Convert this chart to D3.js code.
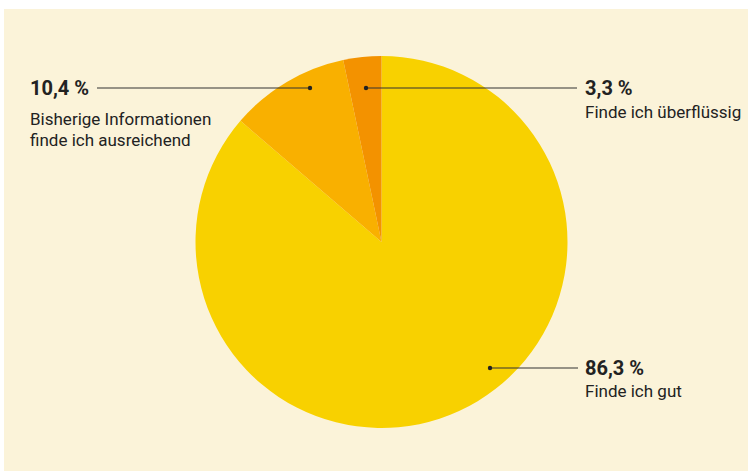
<!DOCTYPE html>
<html><head><meta charset="utf-8">
<script src="https://cdn.jsdelivr.net/npm/d3@7"></script>
<style>html,body{margin:0;padding:0;background:#fff;}svg{display:block;}</style>
</head><body>
<svg id="c" width="748" height="471"></svg>
<script>
const categories = ["Finde ich gut", "Bisherige Informationen finde ich ausreichend", "Finde ich überflüssig"];
const values = [86.3, 10.4, 3.3];
const valueLabels = ["86,3 %", "10,4 %", "3,3 %"];
const labelLines = [["Finde ich gut"], ["Bisherige Informationen", "finde ich ausreichend"], ["Finde ich überflüssig"]];
const colors = ["#f8d100", "#f9b000", "#f39200"];

const svg = d3.select("#c");
const font = "Roboto,'Open Sans',sans-serif";
svg.append("rect").attr("x", 4).attr("y", 9).attr("width", 744).attr("height", 462).attr("fill", "#fbf3d9");

const cx = 381.5, cy = 242, r = 186;
const g = svg.append("g").attr("transform", `translate(${cx},${cy})`);
const pie = d3.pie().sort(null).value(d => d);
const arcs = pie(values);
const arc = d3.arc().innerRadius(0).outerRadius(r);
g.selectAll("path").data(arcs).enter().append("path")
  .attr("d", arc).attr("fill", (d, i) => colors[i]);

const dots = [[490, 368], [310, 88], [366, 88]];
const lineEnds = [578, 97, 577];
const textX = [585, 30, 585];
const subOffset = [29, 37, 30];
dots.forEach((p, i) => {
  const ly = p[1];
  svg.append("line").attr("x1", p[0]).attr("x2", lineEnds[i]).attr("y1", ly).attr("y2", ly)
    .attr("stroke", "#333").attr("stroke-width", 1.1);
  svg.append("circle").attr("cx", p[0]).attr("cy", ly).attr("r", 2.2).attr("fill", "#222");
  const t = svg.append("g").attr("transform", `translate(${textX[i]},0)`);
  t.append("text").attr("x", 0).attr("y", ly + 7)
    .attr("font-family", font).attr("font-weight", "bold").attr("font-size", 20)
    .attr("fill", "#222").text(valueLabels[i]);
  labelLines[i].forEach((s, j) => {
    t.append("text").attr("x", 0).attr("y", ly + subOffset[i] + j * 21)
      .attr("font-family", font).attr("font-size", 17)
      .attr("fill", "#222").text(s);
  });
});
</script>
</body></html>
